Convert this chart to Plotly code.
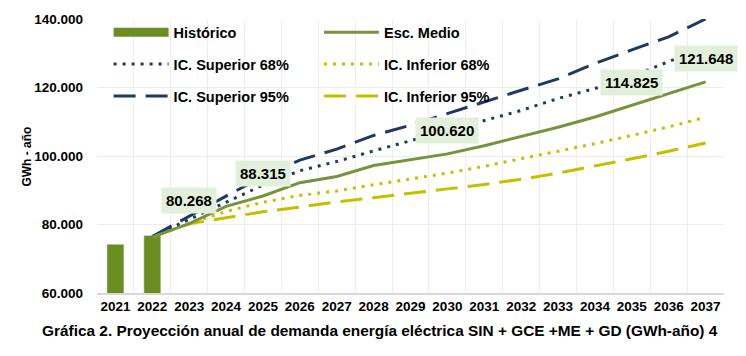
import plotly.graph_objects as go

# ---- data ----
hist_years = ["2021", "2022"]
hist_vals = [74200, 76800]

proj_years = [str(y) for y in range(2022, 2038)]
medio = [76400, 80268, 85300, 88315, 92200, 94000, 97200, 98900, 100620, 103000,
         105600, 108400, 111400, 114825, 118200, 121648]
sup68 = [76500, 81500, 86300, 91500, 95700, 98400, 101500, 104500, 107500, 110300,
         113300, 116800, 119700, 123300, 127500, 131800]
inf68 = [76400, 80300, 83800, 86500, 88500, 89800, 91600, 93300, 95000, 97000,
         99200, 101300, 103600, 106000, 108500, 111300]
sup95 = [76500, 82500, 88300, 94000, 98800, 102000, 106000, 109000, 112400, 116000,
         119200, 122500, 127000, 131000, 134800, 140000]
inf95 = [76400, 80200, 82000, 83700, 85100, 86600, 87800, 89200, 90400, 91700,
         93200, 95000, 97000, 99200, 101400, 103800]

label_years = ["2023", "2025", "2030", "2035", "2037"]
label_vals = [80268, 88315, 100620, 114825, 121648]

all_years = [str(y) for y in range(2021, 2038)]
y_ticks = [60000, 80000, 100000, 120000, 140000]
y_ticktext = ["60.000", "80.000", "100.000", "120.000", "140.000"]

caption = "Gráfica 2. Proyección anual de demanda energía eléctrica SIN + GCE +ME + GD (GWh-año) 4"
y_title = "GWh - año"

# ---- styles ----
OLIVE = "#6B8E23"
MEDIO = "#77933C"
NAVY = "#1F3864"
YEL = "#C4C000"
FONT = "Liberation Sans"
DOT = "3px,6px"
DASH = "22px,10px"

fig = go.Figure()

# historical bars
fig.add_trace(go.Bar(x=hist_years, y=hist_vals, marker_color=OLIVE, width=0.46,
                     showlegend=False, name="Histórico"))

def line(name, ys, color, width, dash):
    return go.Scatter(x=proj_years, y=ys, mode="lines", name=name,
                      line=dict(color=color, width=width, dash=dash),
                      showlegend=False)

fig.add_trace(line("IC. Inferior 95%", inf95, YEL, 3, DASH))
fig.add_trace(line("IC. Inferior 68%", inf68, YEL, 3, DOT))
fig.add_trace(line("IC. Superior 95%", sup95, NAVY, 3, DASH))
fig.add_trace(line("IC. Superior 68%", sup68, NAVY, 3, DOT))
fig.add_trace(line("Esc. Medio", medio, MEDIO, 3, "solid"))

# legend entries (legend-only traces)
def leg(name, color, width, dash, legend, grp):
    return go.Scatter(x=[None], y=[None], mode="lines", name=name,
                      line=dict(color=color, width=width, dash=dash),
                      legend=legend, legendgroup=grp, showlegend=True)

fig.add_trace(leg("Histórico", OLIVE, 9, "solid", "legend", "a"))
fig.add_trace(leg("IC. Superior 68%", NAVY, 3, DOT, "legend", "b"))
fig.add_trace(leg("IC. Superior 95%", NAVY, 3, DASH, "legend", "c"))
fig.add_trace(leg("Esc. Medio", MEDIO, 3, "solid", "legend2", "d"))
fig.add_trace(leg("IC. Inferior 68%", YEL, 3, DOT, "legend2", "e"))
fig.add_trace(leg("IC. Inferior 95%", YEL, 3, DASH, "legend2", "f"))

# value labels
for yr, v in zip(label_years, label_vals):
    fig.add_annotation(x=all_years.index(yr), y=v, xref="x", yref="y",
                       text=f"{v:,}".replace(",", "."),
                       showarrow=False, yshift=23, bgcolor="#E2EFDA", borderpad=4,
                       font=dict(family=FONT, size=15, color="black", weight="bold"))

# caption
fig.add_annotation(x=(380 - 97) / 627, y=-0.097, xref="paper", yref="paper",
                   xanchor="center", yanchor="top", text=caption, showarrow=False,
                   font=dict(family=FONT, size=15.4, color="black", weight="bold"))
# y title
fig.add_annotation(x=-0.112, y=0.497, xref="paper", yref="paper", text=y_title,
                   textangle=-90, showarrow=False, xanchor="center", yanchor="middle",
                   font=dict(family=FONT, size=12, color="black", weight="bold"))

legfont = dict(family=FONT, size=14.5, color="black", weight="bold")
# the page body adds an 8px offset; size the figure so the plot lands where the reference has it
fig.update_layout(
    width=738, height=348,
    margin=dict(l=89, r=22, t=11, b=63, autoexpand=False),
    paper_bgcolor="white", plot_bgcolor="white",
    legend=dict(x=0.0185, y=1.01, xanchor="left", yanchor="top", font=legfont,
                itemwidth=55, traceorder="grouped", tracegroupgap=10,
                bgcolor="rgba(0,0,0,0)"),
    legend2=dict(x=0.354, y=1.01, xanchor="left", yanchor="top", font=legfont,
                 itemwidth=55, traceorder="grouped", tracegroupgap=10,
                 bgcolor="rgba(0,0,0,0)"),
    xaxis=dict(type="category", categoryorder="array", categoryarray=all_years,
               range=[-0.5, 16.5], tickson="boundaries", showgrid=True,
               gridcolor="#EDEDED", gridwidth=1, ticks="", showline=True,
               linecolor="#D9D9D9", linewidth=2, tickangle=0,
               tickfont=dict(family=FONT, size=13.5, color="black", weight="bold")),
    yaxis=dict(range=[60000, 140000], tickvals=y_ticks, ticktext=y_ticktext,
               showgrid=True, gridcolor="#EDEDED", gridwidth=1, zeroline=False,
               ticks="", ticklabelstandoff=13,
               tickfont=dict(family=FONT, size=13.5, color="black", weight="bold")),
)

fig.write_html("out.html")
